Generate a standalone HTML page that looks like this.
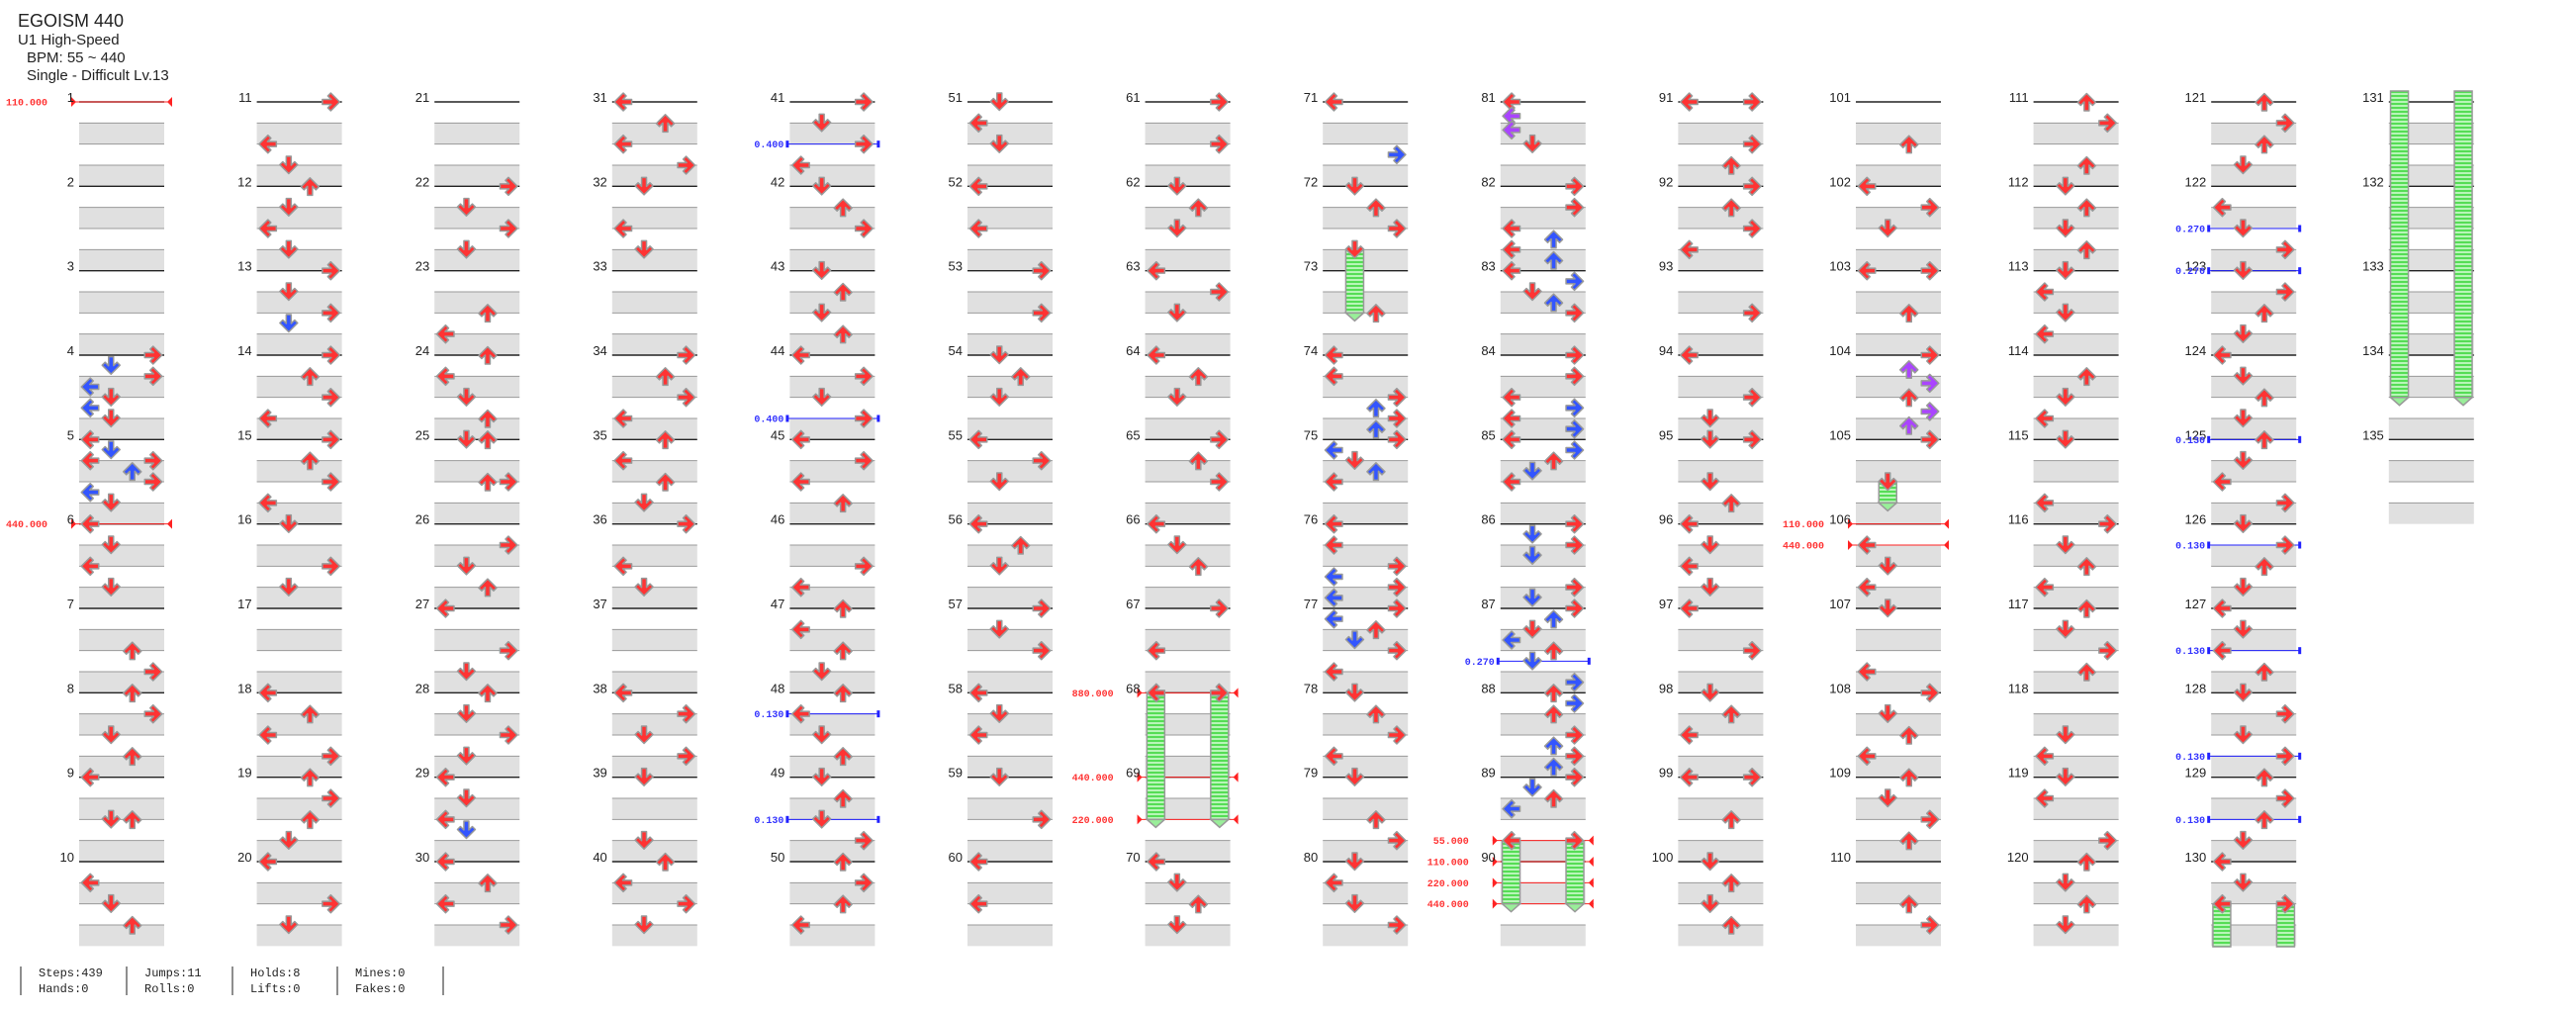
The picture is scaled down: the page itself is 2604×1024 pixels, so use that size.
<!DOCTYPE html>
<html><head><meta charset="utf-8"><style>
html,body{margin:0;padding:0;background:#fff;width:2604px;height:1024px;overflow:hidden}
svg{display:block}
.t{font-family:"Liberation Sans","Noto Sans CJK JP",sans-serif;fill:#222}
.mn{font-family:"Liberation Sans",sans-serif;font-size:13px;fill:#222;text-anchor:end}
.r{font-family:"Liberation Mono",monospace;font-size:10px;font-weight:bold;fill:#f33;text-anchor:end}
.b{font-family:"Liberation Mono",monospace;font-size:10px;font-weight:bold;fill:#33f;text-anchor:end}
.s{font-family:"Liberation Mono",monospace;font-size:12px;fill:#222}
</style></head><body>
<svg width="2604" height="1024" viewBox="0 0 2604 1024" xmlns="http://www.w3.org/2000/svg">
<defs>
<path id="a" d="M-2.5,-9 L2.5,-9 L2.5,0 L6,-3.5 L9,-0.5 L0,8.5 L-9,-0.5 L-6,-3.5 L-2.5,0 Z" stroke="#999" stroke-width="1.5" stroke-linejoin="round"/>
<pattern id="hs" width="4" height="4" patternUnits="userSpaceOnUse"><rect width="4" height="4" fill="#b8f5b8"/><rect width="4" height="2" fill="#55dd55"/></pattern>
</defs>
<g id="g"></g>
<text class="t" x="18" y="27" font-size="18">EGOISM 440</text>
<text class="t" x="18" y="45" font-size="15">U1 High-Speed</text>
<text class="t" x="27" y="63" font-size="15">BPM: 55 ~ 440</text>
<text class="t" x="27" y="81" font-size="15">Single - Difficult  Lv.13</text>

<g transform="translate(75,0)"><text class="mn" y="103">1</text><text class="mn" y="188.3">2</text><text class="mn" y="273.7">3</text><text class="mn" y="359">4</text><text class="mn" y="444.3">5</text><text class="mn" y="529.7">6</text><text class="mn" y="615">7</text><text class="mn" y="700.3">8</text><text class="mn" y="785.7">9</text><text class="mn" y="871">10</text></g>
<g transform="translate(254.6,0)"><text class="mn" y="103">11</text><text class="mn" y="188.3">12</text><text class="mn" y="273.7">13</text><text class="mn" y="359">14</text><text class="mn" y="444.3">15</text><text class="mn" y="529.7">16</text><text class="mn" y="615">17</text><text class="mn" y="700.3">18</text><text class="mn" y="785.7">19</text><text class="mn" y="871">20</text></g>
<g transform="translate(434.2,0)"><text class="mn" y="103">21</text><text class="mn" y="188.3">22</text><text class="mn" y="273.7">23</text><text class="mn" y="359">24</text><text class="mn" y="444.3">25</text><text class="mn" y="529.7">26</text><text class="mn" y="615">27</text><text class="mn" y="700.3">28</text><text class="mn" y="785.7">29</text><text class="mn" y="871">30</text></g>
<g transform="translate(613.8,0)"><text class="mn" y="103">31</text><text class="mn" y="188.3">32</text><text class="mn" y="273.7">33</text><text class="mn" y="359">34</text><text class="mn" y="444.3">35</text><text class="mn" y="529.7">36</text><text class="mn" y="615">37</text><text class="mn" y="700.3">38</text><text class="mn" y="785.7">39</text><text class="mn" y="871">40</text></g>
<g transform="translate(793.4,0)"><text class="mn" y="103">41</text><text class="mn" y="188.3">42</text><text class="mn" y="273.7">43</text><text class="mn" y="359">44</text><text class="mn" y="444.3">45</text><text class="mn" y="529.7">46</text><text class="mn" y="615">47</text><text class="mn" y="700.3">48</text><text class="mn" y="785.7">49</text><text class="mn" y="871">50</text></g>
<g transform="translate(973,0)"><text class="mn" y="103">51</text><text class="mn" y="188.3">52</text><text class="mn" y="273.7">53</text><text class="mn" y="359">54</text><text class="mn" y="444.3">55</text><text class="mn" y="529.7">56</text><text class="mn" y="615">57</text><text class="mn" y="700.3">58</text><text class="mn" y="785.7">59</text><text class="mn" y="871">60</text></g>
<g transform="translate(1152.6,0)"><text class="mn" y="103">61</text><text class="mn" y="188.3">62</text><text class="mn" y="273.7">63</text><text class="mn" y="359">64</text><text class="mn" y="444.3">65</text><text class="mn" y="529.7">66</text><text class="mn" y="615">67</text><text class="mn" y="700.3">68</text><text class="mn" y="785.7">69</text><text class="mn" y="871">70</text></g>
<g transform="translate(1332.2,0)"><text class="mn" y="103">71</text><text class="mn" y="188.3">72</text><text class="mn" y="273.7">73</text><text class="mn" y="359">74</text><text class="mn" y="444.3">75</text><text class="mn" y="529.7">76</text><text class="mn" y="615">77</text><text class="mn" y="700.3">78</text><text class="mn" y="785.7">79</text><text class="mn" y="871">80</text></g>
<g transform="translate(1511.8,0)"><text class="mn" y="103">81</text><text class="mn" y="188.3">82</text><text class="mn" y="273.7">83</text><text class="mn" y="359">84</text><text class="mn" y="444.3">85</text><text class="mn" y="529.7">86</text><text class="mn" y="615">87</text><text class="mn" y="700.3">88</text><text class="mn" y="785.7">89</text><text class="mn" y="871">90</text></g>
<g transform="translate(1691.4,0)"><text class="mn" y="103">91</text><text class="mn" y="188.3">92</text><text class="mn" y="273.7">93</text><text class="mn" y="359">94</text><text class="mn" y="444.3">95</text><text class="mn" y="529.7">96</text><text class="mn" y="615">97</text><text class="mn" y="700.3">98</text><text class="mn" y="785.7">99</text><text class="mn" y="871">100</text></g>
<g transform="translate(1871,0)"><text class="mn" y="103">101</text><text class="mn" y="188.3">102</text><text class="mn" y="273.7">103</text><text class="mn" y="359">104</text><text class="mn" y="444.3">105</text><text class="mn" y="529.7">106</text><text class="mn" y="615">107</text><text class="mn" y="700.3">108</text><text class="mn" y="785.7">109</text><text class="mn" y="871">110</text></g>
<g transform="translate(2050.6,0)"><text class="mn" y="103">111</text><text class="mn" y="188.3">112</text><text class="mn" y="273.7">113</text><text class="mn" y="359">114</text><text class="mn" y="444.3">115</text><text class="mn" y="529.7">116</text><text class="mn" y="615">117</text><text class="mn" y="700.3">118</text><text class="mn" y="785.7">119</text><text class="mn" y="871">120</text></g>
<g transform="translate(2230.2,0)"><text class="mn" y="103">121</text><text class="mn" y="188.3">122</text><text class="mn" y="273.7">123</text><text class="mn" y="359">124</text><text class="mn" y="444.3">125</text><text class="mn" y="529.7">126</text><text class="mn" y="615">127</text><text class="mn" y="700.3">128</text><text class="mn" y="785.7">129</text><text class="mn" y="871">130</text></g>
<g transform="translate(2409.8,0)"><text class="mn" y="103">131</text><text class="mn" y="188.3">132</text><text class="mn" y="273.7">133</text><text class="mn" y="359">134</text><text class="mn" y="444.3">135</text></g>

<text class="r" x="48" y="106.5">110.000</text>
<text class="r" x="48" y="533.2">440.000</text>
<text class="b" x="792.4" y="149.2">0.400</text>
<text class="b" x="792.4" y="426.5">0.400</text>
<text class="b" x="792.4" y="725.2">0.130</text>
<text class="b" x="792.4" y="831.8">0.130</text>
<text class="r" x="1125.6" y="703.8">880.000</text>
<text class="r" x="1125.6" y="789.2">440.000</text>
<text class="r" x="1125.6" y="831.8">220.000</text>
<text class="b" x="1510.8" y="671.8">0.270</text>
<text class="r" x="1484.8" y="853.2">55.000</text>
<text class="r" x="1484.8" y="874.5">110.000</text>
<text class="r" x="1484.8" y="895.8">220.000</text>
<text class="r" x="1484.8" y="917.2">440.000</text>
<text class="r" x="1844" y="533.2">110.000</text>
<text class="r" x="1844" y="554.5">440.000</text>
<text class="b" x="2229.2" y="234.5">0.270</text>
<text class="b" x="2229.2" y="277.2">0.270</text>
<text class="b" x="2229.2" y="447.8">0.130</text>
<text class="b" x="2229.2" y="554.5">0.130</text>
<text class="b" x="2229.2" y="661.2">0.130</text>
<text class="b" x="2229.2" y="767.8">0.130</text>
<text class="b" x="2229.2" y="831.8">0.130</text>

<g stroke="#444" stroke-width="1.2"><line x1="21" y1="977" x2="21" y2="1006"/><line x1="128" y1="977" x2="128" y2="1006"/><line x1="235" y1="977" x2="235" y2="1006"/><line x1="341" y1="977" x2="341" y2="1006"/><line x1="448" y1="977" x2="448" y2="1006"/></g>
<text class="s" x="39" y="987">Steps:439</text><text class="s" x="39" y="1003">Hands:0</text>
<text class="s" x="146" y="987">Jumps:11</text><text class="s" x="146" y="1003">Rolls:0</text>
<text class="s" x="253" y="987">Holds:8</text><text class="s" x="253" y="1003">Lifts:0</text>
<text class="s" x="359" y="987">Mines:0</text><text class="s" x="359" y="1003">Fakes:0</text>
</svg>
<script>
(function(){
var CX=function(c){return 80+179.6*c;};
var MH=85.3333,BH=21.3333,W=86;
function pos(m,b){var c=Math.floor((m-1)/10),i=(m-1)%10;return {c:c,x:CX(c),y:103+MH*i+BH*b};}
var s='';
// bands
for(var c=0;c<14;c++){
  var nm=c<13?10:5,x=CX(c);
  for(var i=0;i<nm;i++){
    var y0=103+MH*i;
    s+='<rect x="'+x+'" y="'+(y0+BH)+'" width="'+W+'" height="'+BH+'" fill="#e0e0e0"/>';
    s+='<rect x="'+x+'" y="'+(y0+3*BH)+'" width="'+W+'" height="'+BH+'" fill="#e0e0e0"/>';
    for(var k=1;k<4;k++) s+='<line x1="'+x+'" x2="'+(x+W)+'" y1="'+(y0+BH*k)+'" y2="'+(y0+BH*k)+'" stroke="#9a9a9a" stroke-width="1"/>';
    s+='<line x1="'+x+'" x2="'+(x+W)+'" y1="'+y0+'" y2="'+y0+'" stroke="#222" stroke-width="1.4"/>';
  }
}
// markers
var red=[[1,0],[6,0],[68,0],[69,0],[69,2],[89,3],[90,0],[90,1],[90,2],[106,0],[106,1]];
var blue=[[41,2],[44,3],[48,1],[49,2],[87,2.5],[122,2],[123,0],[125,0],[126,1],[127,2],[128,3],[129,2]];
red.forEach(function(r){var p=pos(r[0],r[1]);var x=p.x,y=p.y;
  s+='<line x1="'+(x-8)+'" x2="'+(x+94)+'" y1="'+y+'" y2="'+y+'" stroke="#f22" stroke-width="1"/>';
  s+='<polygon points="'+(x-8)+','+(y-5)+' '+(x-3)+','+y+' '+(x-8)+','+(y+5)+'" fill="#f22"/>';
  s+='<polygon points="'+(x+94)+','+(y-5)+' '+(x+89)+','+y+' '+(x+94)+','+(y+5)+'" fill="#f22"/>';});
blue.forEach(function(r){var p=pos(r[0],r[1]);var x=p.x,y=p.y;
  s+='<line x1="'+(x-2)+'" x2="'+(x+90)+'" y1="'+y+'" y2="'+y+'" stroke="#22f" stroke-width="1"/>';
  s+='<rect x="'+(x-4)+'" y="'+(y-3.5)+'" width="3" height="7" fill="#22f"/>';
  s+='<rect x="'+(x+88)+'" y="'+(y-3.5)+'" width="3" height="7" fill="#22f"/>';});
// holds
function hold(x,y1,y2,tail){
  s+='<rect x="'+(x-9)+'" y="'+y1+'" width="18" height="'+(y2-y1)+'" fill="url(#hs)" stroke="#999" stroke-width="1.5"/>';
  if(tail) s+='<polygon points="'+(x-9)+','+y2+' '+(x+9)+','+y2+' '+x+','+(y2+8)+'" fill="#9e9" stroke="#999" stroke-width="1.5"/>';
}
var LX={L:10.75,D:32.25,U:53.75,R:75.25};
function H(m1,b1,m2,b2,ln){var a=pos(m1,b1),b=pos(m2,b2);hold(a.x+LX[ln],a.y,b.y,true);}
H(68,0,69,2,'L');H(68,0,69,2,'R');H(72,3,73,2,'D');H(89,3,90,2,'L');H(89,3,90,2,'R');H(105,2,105,3,'D');
['L','R'].forEach(function(l){var a=pos(130,2);hold(a.x+LX[l],a.y,957,false);hold(CX(13)+LX[l],92,401.7,true);});
// notes
var N={4:"0R .5D 1R 1.5L 2D 2.5L 3D",5:"0L .5D 1LR 1.5U 2R 2.5L 3D",6:"0L 1D 2L 3D",7:"2U 3R",8:"0U 1R 2D 3U",9:"0L 2DU",10:"1L 2D 3U",
11:"0R 2L 3D",12:"0U 1D 2L 3D",13:"0R 1D 2R 2.5D",14:"0R 1U 2R 3L",15:"0R 1U 2R 3L",16:"0D 2R 3D",18:"0L 1U 2L 3R",19:"0U 1R 2U 3D",20:"0L 2R 3D",
22:"0R 1D 2R 3D",23:"2U 3L",24:"0U 1L 2D 3U",25:"0DU 2UR",26:"1R 2D 3U",27:"0L 2R 3D",28:"0U 1D 2R 3D",29:"0L 1D 2L 2.5D",30:"0L 1U 2L 3R",
31:"0L 1U 2L 3R",32:"0D 2L 3D",34:"0R 1U 2R 3L",35:"0U 1L 2U 3D",36:"0R 2L 3D",38:"0L 1R 2D 3R",39:"0D 3D",40:"0U 1L 2R 3D",
41:"0R 1D 2R 3L",42:"0D 1U 2R",43:"0D 1U 2D 3U",44:"0L 1R 2D 3R",45:"0L 1R 2L 3U",46:"2R 3L",47:"0U 1L 2U 3D",48:"0U 1L 2D 3U",49:"0D 1U 2D 3R",50:"0U 1R 2U 3L",
51:"0D 1L 2D",52:"0L 2L",53:"0R 2R",54:"0D 1U 2D",55:"0L 1R 2D",56:"0L 1U 2D",57:"0R 1D 2R",58:"0L 1D 2L",59:"0D 2R",60:"0L 2L",
61:"0R 2R",62:"0D 1U 2D",63:"0L 1R 2D",64:"0L 1U 2D",65:"0R 1U 2R",66:"0L 1D 2U",67:"0R 2L",68:"0LR",70:"0L 1D 2U 3D",
71:"0L 2.5R",72:"0D 1U 2R 3D",73:"2U",74:"0L 1L 2R 2.5U 3R 3.5U",75:"0R .5L 1D 1.5U 2L",76:"0L 1L 2R 2.5L 3R 3.5L",77:"0R .5L 1U 1.5D 2R 3L",78:"0D 1U 2R 3L",79:"0D 2U 3R",80:"0D 1L 2D 3R",
81:"0L .67L 1.33L 2D",82:"0R 1R 2L 2.5U 3L 3.5U",83:"0L .5R 1D 1.5U 2R",84:"0R 1R 2L 2.5R 3L 3.5R",85:"0L .5R 1U 1.5D 2L",86:"0R .5D 1R 1.5D 3R 3.5D",87:"0R .5U 1D 1.5L 2U 2.5D 3.5R",88:"0U .5R 1U 2R 2.5U 3R 3.5U",89:"0R .5D 1U 1.5L 3LR",
91:"0LR 2R 3U",92:"0R 1U 2R 3L",93:"2R",94:"0L 2R 3D",95:"0DR 2D 3U",96:"0L 1D 2L 3D",97:"0L 2R",98:"0D 1U 2L",99:"0LR 2U",100:"0D 1U 2D 3U",
101:"2U",102:"0L 1R 2D",103:"0LR 2U",104:"0R .67U 1.33R 2U 2.67R 3.33U",105:"0R 2D",106:"1L 2D 3L",107:"0D 3L",108:"0R 1D 2U 3L",109:"0U 1D 2R 3U",110:"2U 3R",
111:"0U 1R 3U",112:"0D 1U 2D 3U",113:"0D 1L 2D 3L",114:"1U 2D 3L",115:"0D 3L",116:"0R 1D 2U 3L",117:"0U 1D 2R 3U",118:"2D 3L",119:"0D 1L 3R",120:"0U 1D 2U 3D",
121:"0U 1R 2U 3D",122:"1L 2D 3R",123:"0D 1R 2U 3D",124:"0L 1D 2U 3D",125:"0U 1D 2L 3R",126:"0D 1R 2U 3D",127:"0L 1D 2L 3U",128:"0D 1R 2D 3R",129:"0U 1R 2U 3D",130:"0L 1D 2LR"};
var ROT={L:90,D:0,U:180,R:-90};
for(var m in N){N[m].split(' ').forEach(function(t){
  var mm=t.match(/^([\d.]+)([LDUR]+)$/);if(!mm)return;
  var b=parseFloat(mm[1]),f=b%1,col=f<0.01?'#ff3333':(Math.abs(f-0.5)<0.01?'#3355ff':'#aa44ff');
  var p=pos(+m,b);
  mm[2].split('').forEach(function(l){
    s+='<use href="#a" transform="translate('+(p.x+LX[l]).toFixed(2)+','+p.y.toFixed(2)+') rotate('+ROT[l]+')" fill="'+col+'"/>';
  });
});}
document.getElementById('g').innerHTML=s;
})();
</script>
</body></html>
